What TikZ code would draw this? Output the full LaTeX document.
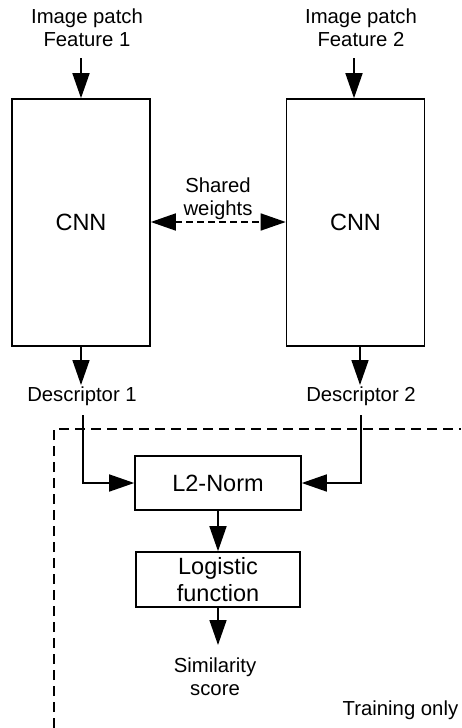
\documentclass[tikz,border=0pt]{standalone}
\usepackage{fontspec}
\setmainfont{Liberation Sans}
\usetikzlibrary{arrows.meta}
\begin{document}
\begin{tikzpicture}[x=1pt,y=-1pt,
  line width=1.6pt,
  arr/.style={-{Triangle[length=25pt,width=17pt]}},
  biarr/.style={{Triangle[length=25pt,width=17pt]}-{Triangle[length=25pt,width=17pt]}},
  lbl/.style={font=\fontsize{20.3}{23}\selectfont, align=center, inner sep=0pt},
  box/.style={draw, font=\fontsize{23.5}{27}\selectfont, align=center, inner sep=0pt},
  cnnbox/.style={box, minimum width=138pt, minimum height=247pt}]
\useasboundingbox (0,0) rectangle (461,728);

% inputs
\node[lbl] (in1) at (87,28) {Image patch\\Feature 1};
\node[lbl] (in2) at (361,28) {Image patch\\Feature 2};

% the two CNN branches
\node[cnnbox] (cnn1) at (81,222.5) {CNN};
\node[cnnbox] (cnn2) at (355.5,222.5) {CNN};
\coordinate (t1) at (81,58);
\coordinate (t2) at (354,58);
\draw[arr] (t1) -- (t1 |- cnn1.north);
\draw[arr] (t2) -- (t2 |- cnn2.north);

% shared weights
\node[lbl] (sw) at (218,199) {Shared\\weights};
\draw[biarr, dash pattern=on 7pt off 4pt] (cnn1.east |- 0,222) -- (cnn2.west |- 0,222);

% descriptors
\node[lbl] (d1) at (82,396) {Descriptor 1};
\node[lbl] (d2) at (361,396) {Descriptor 2};
\coordinate (b1) at (81,385);
\coordinate (b2) at (360,385);
\draw[arr] (b1 |- cnn1.south) -- (b1);
\draw[arr] (b2 |- cnn2.south) -- (b2);

% training-only region
\draw[dash pattern=on 10pt off 6pt] (54,728) -- (54,429) -- (461,429);
\node[lbl, anchor=east] (tr) at (459,710) {Training only};

% L2 normalisation and logistic output
\node[box, minimum width=166pt, minimum height=54pt] (l2) at (218,483) {L2-Norm};
\node[box, minimum width=164pt, minimum height=55pt] (lg) at (218,579.5) {Logistic\\function};
\coordinate (s1) at (83,415);
\coordinate (s2) at (361,415);
\draw[arr] (s1) |- (l2.west);
\draw[arr] (s2) |- (l2.east);
\draw[arr] (l2.south) -- (lg.north);
\coordinate (e) at (218,645);
\draw[arr] (lg.south) -- (e);
\node[lbl] (sim) at (215,677) {Similarity\\score};
\end{tikzpicture}
\end{document}
